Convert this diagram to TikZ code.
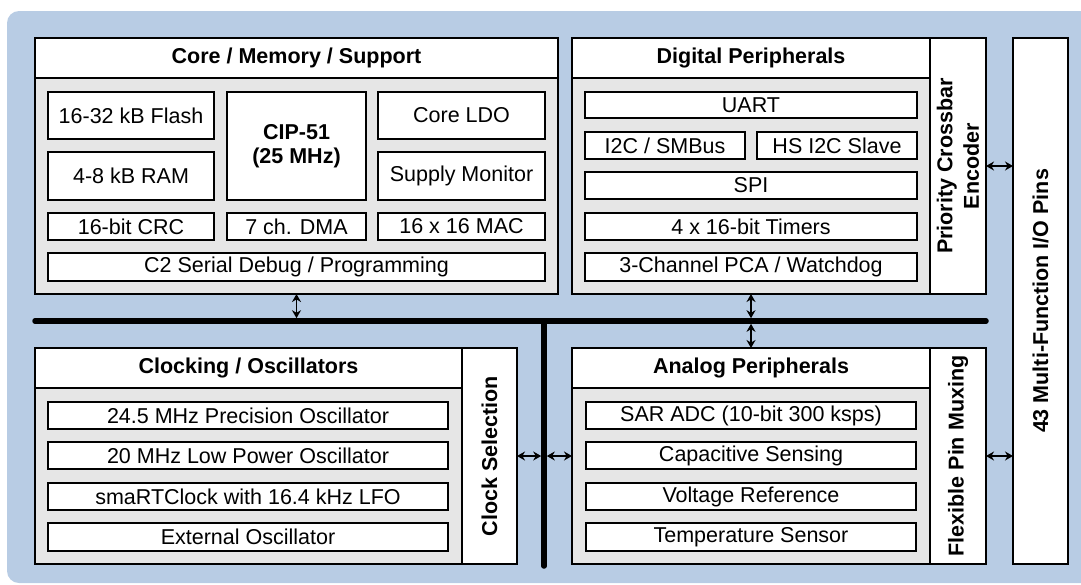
\documentclass[tikz,border=0pt]{standalone}
\usepackage{fontspec}
\setmainfont{Liberation Sans}
\usetikzlibrary{arrows.meta,calc}
\definecolor{bgblue}{HTML}{B8CCE4}
\definecolor{panelgray}{HTML}{E6E6E6}
\newcommand\blockat[7]{\node[#1, minimum width={(#5-#3)*1pt}, minimum height={(#6-#4)*1pt}] (#2) at ({(#3+#5)/2},{(#4+#6)/2}) {#7};}
\begin{document}
\begin{tikzpicture}[x=1pt,y=-1pt,
  unit/.style={draw, line width=1.8pt, fill=white, inner sep=0pt, outer sep=0pt, font=\fontsize{21.5}{24}\selectfont, align=center},
  headbox/.style={unit, font=\bfseries\fontsize{21.5}{24}\selectfont},
  bodybox/.style={draw, line width=1.8pt, fill=panelgray, inner sep=0pt, outer sep=0pt},
  colbox/.style={draw, line width=1.8pt, fill=white, inner sep=0pt, outer sep=0pt},
  vtext/.style={rotate=90, font=\bfseries\fontsize{21.5}{26.5}\selectfont, align=center, inner sep=0pt},
  busline/.style={line width=5.5pt, line cap=round},
  link/.style={line width=1.8pt, {Stealth[length=8pt,width=9pt]}-{Stealth[length=8pt,width=9pt]}}]
\useasboundingbox (0,0) rectangle (1081,584);
\fill[bgblue, rounded corners=12pt] (7,11) rectangle (1095,583);

% Core / Memory / Support
\blockat{bodybox}{corebody}{35}{78}{558}{294}{}
\blockat{headbox}{corehead}{35}{38}{558}{78}{Core / Memory / Support}
\blockat{unit}{flash}{48}{92}{214}{139}{16-32 kB Flash}
\blockat{unit}{cip}{227}{92}{366}{200}{\bfseries CIP-51\\\bfseries (25 MHz)}
\blockat{unit}{ldo}{378}{92}{545}{139}{Core LDO}
\blockat{unit}{ram}{48}{152}{214}{200}{4-8 kB RAM}
\blockat{unit}{supmon}{378}{152}{545}{200}{Supply Monitor}
\blockat{unit}{crc}{48}{213}{214}{240}{16-bit CRC}
\blockat{unit}{dma}{227}{213}{366}{240}{7 ch. DMA}
\blockat{unit}{mac}{378}{213}{545}{240}{16 x 16 MAC}
\blockat{unit}{ctwo}{48}{253}{545}{281}{C2 Serial Debug / Programming}

% Digital Peripherals
\blockat{bodybox}{digbody}{572}{78}{930}{294}{}
\blockat{headbox}{dighead}{572}{38}{930}{78}{Digital Peripherals}
\blockat{colbox}{xbar}{930}{38}{986}{294}{}
\node[vtext] (xbartext) at (xbar) {Priority Crossbar\\Encoder};
\blockat{unit}{uart}{585}{92}{917}{118}{UART}
\blockat{unit}{itwoc}{585}{132}{745}{159}{I2C / SMBus}
\blockat{unit}{hsitwoc}{757}{132}{917}{159}{HS I2C Slave}
\blockat{unit}{spi}{585}{172}{917}{199}{SPI}
\blockat{unit}{timers}{585}{213}{917}{240}{4 x 16-bit Timers}
\blockat{unit}{pca}{585}{253}{917}{281}{3-Channel PCA / Watchdog}

% I/O pins
\blockat{colbox}{io}{1013}{38}{1068}{564}{}
\node[vtext] (iotext) at (io) {43 Multi-Function I/O Pins};

% Clocking / Oscillators
\blockat{bodybox}{clkbody}{35}{388}{462}{564}{}
\blockat{headbox}{clkhead}{35}{348}{462}{388}{Clocking / Oscillators}
\blockat{colbox}{clksel}{462}{348}{517}{564}{}
\node[vtext] (clkseltext) at (clksel) {Clock Selection};
\blockat{unit}{oscA}{48}{402}{448}{429}{24.5 MHz Precision Oscillator}
\blockat{unit}{oscB}{48}{442}{448}{469}{20 MHz Low Power Oscillator}
\blockat{unit}{oscC}{48}{483}{448}{510}{smaRTClock with 16.4 kHz LFO}
\blockat{unit}{oscD}{48}{523}{448}{551}{External Oscillator}

% Analog Peripherals
\blockat{bodybox}{anabody}{572}{388}{930}{564}{}
\blockat{headbox}{anahead}{572}{348}{930}{388}{Analog Peripherals}
\blockat{colbox}{mux}{930}{348}{986}{564}{}
\node[vtext] (muxtext) at (mux) {Flexible Pin Muxing};
\blockat{unit}{adc}{586}{402}{916}{429}{SAR ADC (10-bit 300 ksps)}
\blockat{unit}{capsense}{586}{442}{916}{469}{Capacitive Sensing}
\blockat{unit}{vref}{586}{483}{916}{510}{Voltage Reference}
\blockat{unit}{temp}{586}{523}{916}{551}{Temperature Sensor}

% Buses
\coordinate (busL) at (35,321);
\coordinate (busR) at (986,321);
\coordinate (busT) at (544,321);
\coordinate (busB) at (544,566);
\draw[busline] (busL) -- (busR);
\draw[busline] (busT) -- (busB);

\coordinate (coreBusTop) at (296.5,318.2);
\coordinate (digBusTop) at (751,318.2);
\coordinate (anaBusBot) at (751,323.8);
\coordinate (vbusL) at (541.2,456);
\coordinate (vbusR) at (546.8,456);

\draw[link] (corebody.south) -- (coreBusTop);
\draw[link] (digbody.south) -- (digBusTop);
\draw[link] (anaBusBot) -- (anahead.north);
\draw[link] (clksel.east) -- (vbusL);
\draw[link] (vbusR) -- (clksel.east -| anabody.west);
\draw[link] (xbar.east) -- (xbar.east -| io.west);
\draw[link] (mux.east) -- (mux.east -| io.west);
\end{tikzpicture}
\end{document}
